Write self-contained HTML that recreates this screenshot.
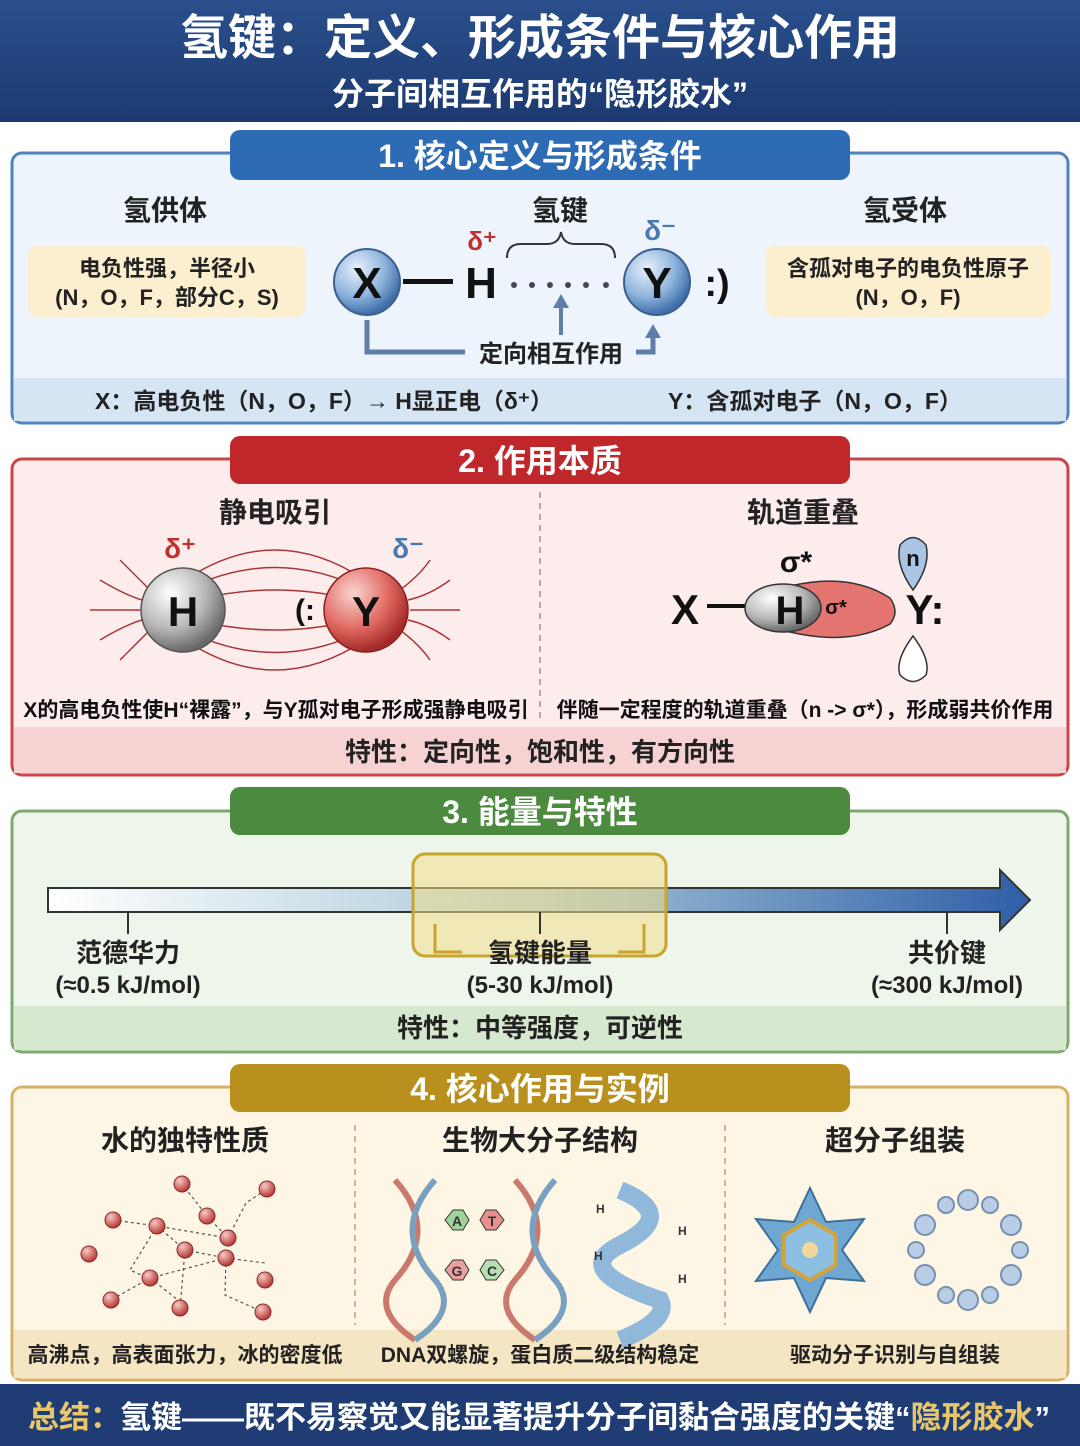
<!DOCTYPE html>
<html><head><meta charset="utf-8"><style>
html,body{margin:0;padding:0;background:#fff}
svg{display:block}
text{font-family:"Liberation Sans","Noto Sans CJK SC",sans-serif;font-weight:bold}
</style></head><body>
<svg width="1080" height="1446" viewBox="0 0 1080 1446" xmlns="http://www.w3.org/2000/svg">
<defs>
<linearGradient id="hdr" x1="0" y1="0" x2="0" y2="1"><stop offset="0" stop-color="#2a4f8c"/><stop offset="1" stop-color="#1c3a70"/></linearGradient>
<radialGradient id="blueBall" cx="0.35" cy="0.3" r="0.7"><stop offset="0" stop-color="#e8f1fb"/><stop offset="0.6" stop-color="#8fb4de"/><stop offset="1" stop-color="#3f6fa8"/></radialGradient>
<radialGradient id="greyBall" cx="0.35" cy="0.3" r="0.7"><stop offset="0" stop-color="#ffffff"/><stop offset="0.6" stop-color="#b8b8b8"/><stop offset="1" stop-color="#6a6a6a"/></radialGradient>
<radialGradient id="redBall" cx="0.35" cy="0.3" r="0.7"><stop offset="0" stop-color="#fbd4d0"/><stop offset="0.6" stop-color="#e06a62"/><stop offset="1" stop-color="#a42a28"/></radialGradient>
<radialGradient id="wball" cx="0.35" cy="0.3" r="0.7"><stop offset="0" stop-color="#f7c9c4"/><stop offset="1" stop-color="#b83a36"/></radialGradient>
<linearGradient id="bar" x1="0" y1="0" x2="1" y2="0"><stop offset="0" stop-color="#ffffff"/><stop offset="0.5" stop-color="#a8c8d8"/><stop offset="1" stop-color="#2f5ea8"/></linearGradient>
</defs>

<!-- header -->
<rect x="0" y="0" width="1080" height="122" fill="url(#hdr)"/>
<text x="540" y="54" font-size="48" fill="#fff" text-anchor="middle">氢键：定义、形成条件与核心作用</text>
<text x="540" y="105" font-size="32" fill="#fff" text-anchor="middle">分子间相互作用的“隐形胶水”</text>

<!-- Section 1 -->
<rect x="12" y="153" width="1056" height="270" rx="10" fill="#eef4fb" stroke="#4f82bf" stroke-width="3"/>
<rect x="14" y="378" width="1052" height="43" fill="#d6e5f3"/>
<rect x="230" y="130" width="620" height="50" rx="10" fill="#2d6bb5"/>
<text x="540" y="167" font-size="32" fill="#fff" text-anchor="middle">1. 核心定义与形成条件</text>
<text x="165" y="220" font-size="28" fill="#222" text-anchor="middle">氢供体</text>
<text x="560" y="220" font-size="28" fill="#222" text-anchor="middle">氢键</text>
<text x="905" y="220" font-size="28" fill="#222" text-anchor="middle">氢受体</text>
<rect x="28" y="245" width="278" height="72" rx="10" fill="#fbefd0"/>
<text x="167" y="276" font-size="22" fill="#222" text-anchor="middle">电负性强，半径小</text>
<text x="167" y="305" font-size="22" fill="#222" text-anchor="middle">(N，O，F，部分C，S)</text>
<rect x="765" y="245" width="286" height="72" rx="10" fill="#fbefd0"/>
<text x="908" y="276" font-size="22" fill="#222" text-anchor="middle">含孤对电子的电负性原子</text>
<text x="908" y="305" font-size="22" fill="#222" text-anchor="middle">(N，O，F)</text>
<circle cx="367" cy="282" r="33" fill="url(#blueBall)" stroke="#3a5f90" stroke-width="2"/>
<text x="367" y="298" font-size="44" fill="#111" text-anchor="middle">X</text>
<rect x="403" y="279" width="50" height="5" fill="#111"/>
<text x="481" y="298" font-size="44" fill="#111" text-anchor="middle">H</text>
<text x="482" y="250" font-size="26" fill="#c0302c" text-anchor="middle">δ⁺</text>
<g fill="#445">
<circle cx="514" cy="285" r="3"/><circle cx="532" cy="285" r="3"/><circle cx="550" cy="285" r="3"/><circle cx="568" cy="285" r="3"/><circle cx="586" cy="285" r="3"/><circle cx="606" cy="285" r="3"/>
</g>
<path d="M507 258 q0 -14 14 -14 h26 q12 0 14 -12 q2 12 14 12 h26 q14 0 14 14" fill="none" stroke="#333" stroke-width="2"/>
<text x="660" y="240" font-size="28" fill="#4a78b0" text-anchor="middle">δ⁻</text>
<circle cx="657" cy="282" r="33" fill="url(#blueBall)" stroke="#3a5f90" stroke-width="2"/>
<text x="657" y="298" font-size="44" fill="#111" text-anchor="middle">Y</text>
<text x="717" y="296" font-size="38" fill="#111" text-anchor="middle">:)</text>
<path d="M367 320 V352 H465" fill="none" stroke="#5f7fa8" stroke-width="5"/>
<path d="M636 352 H653 V335" fill="none" stroke="#5f7fa8" stroke-width="5"/>
<path d="M645 338 L653 324 L661 338Z" fill="#5f7fa8"/>
<path d="M561 335 V305" stroke="#5f7fa8" stroke-width="4"/>
<path d="M553 308 L561 294 L569 308Z" fill="#5f7fa8"/>
<text x="551" y="362" font-size="24" fill="#222" text-anchor="middle">定向相互作用</text>
<text x="95" y="409" font-size="23" fill="#222">X：高电负性（N，O，F）→ H显正电（δ⁺）</text>
<text x="668" y="409" font-size="23" fill="#222">Y：含孤对电子（N，O，F）</text>

<!-- Section 2 -->
<rect x="12" y="459" width="1056" height="316" rx="10" fill="#fcecec" stroke="#c84548" stroke-width="3"/>
<rect x="14" y="727" width="1052" height="46" fill="#f6d2d2"/>
<rect x="230" y="436" width="620" height="48" rx="10" fill="#c0272b"/>
<text x="540" y="472" font-size="32" fill="#fff" text-anchor="middle">2. 作用本质</text>
<line x1="540" y1="492" x2="540" y2="722" stroke="#c8a0a0" stroke-width="2" stroke-dasharray="6 5"/>
<text x="275" y="522" font-size="28" fill="#222" text-anchor="middle">静电吸引</text>
<text x="803" y="522" font-size="28" fill="#222" text-anchor="middle">轨道重叠</text>
<g fill="none" stroke="#a83838" stroke-width="1.5">
<path d="M185 580 Q275 520 365 580"/><path d="M185 590 Q275 545 365 590"/><path d="M195 600 Q275 580 355 600"/>
<path d="M195 620 Q275 640 355 620"/><path d="M185 630 Q275 675 365 630"/><path d="M185 640 Q275 700 365 640"/>
<path d="M90 610 H140"/><path d="M100 580 Q125 595 142 600"/><path d="M100 640 Q125 625 142 620"/><path d="M120 560 Q140 580 150 590"/><path d="M120 660 Q140 640 150 630"/>
<path d="M410 610 H460"/><path d="M408 600 Q430 595 450 580"/><path d="M408 620 Q430 625 450 640"/><path d="M400 590 Q420 575 430 560"/><path d="M400 630 Q420 645 430 660"/>
</g>
<circle cx="183" cy="610" r="42" fill="url(#greyBall)" stroke="#555" stroke-width="1.5"/>
<text x="183" y="626" font-size="42" fill="#111" text-anchor="middle">H</text>
<text x="180" y="558" font-size="28" fill="#c0302c" text-anchor="middle">δ⁺</text>
<circle cx="366" cy="610" r="42" fill="url(#redBall)" stroke="#8a2020" stroke-width="1.5"/>
<text x="366" y="626" font-size="42" fill="#111" text-anchor="middle">Y</text>
<text x="408" y="558" font-size="28" fill="#4a78b0" text-anchor="middle">δ⁻</text>
<text x="305" y="620" font-size="30" fill="#111" text-anchor="middle">(:</text>
<text x="685" y="624" font-size="42" fill="#111" text-anchor="middle">X</text>
<rect x="707" y="604" width="38" height="4" fill="#111"/>
<path d="M790 586 Q850 572 890 598 Q900 612 890 624 Q850 646 790 632Z" fill="#e47470" stroke="#333" stroke-width="1.5"/>
<ellipse cx="783" cy="608" rx="38" ry="24" fill="url(#greyBall)" stroke="#333" stroke-width="1.5"/>
<text x="790" y="624" font-size="40" fill="#111" text-anchor="middle">H</text>
<text x="836" y="614" font-size="20" fill="#111" text-anchor="middle">σ*</text>
<text x="796" y="572" font-size="30" fill="#111" text-anchor="middle">σ*</text>
<path d="M913 590 Q895 565 900 545 Q913 530 926 545 Q931 565 913 590Z" fill="#a9c4e4" stroke="#333" stroke-width="1.5"/>
<text x="913" y="566" font-size="22" fill="#111" text-anchor="middle">n</text>
<path d="M913 636 Q895 660 900 675 Q913 688 926 675 Q931 660 913 636Z" fill="#fff" stroke="#333" stroke-width="1.5"/>
<text x="925" y="624" font-size="42" fill="#111" text-anchor="middle">Y:</text>
<text x="276" y="717" font-size="21" fill="#111" text-anchor="middle">X的高电负性使H“裸露”，与Y孤对电子形成强静电吸引</text>
<text x="805" y="717" font-size="21" fill="#111" text-anchor="middle">伴随一定程度的轨道重叠（n -&gt; σ*），形成弱共价作用</text>
<text x="540" y="761" font-size="26" fill="#222" text-anchor="middle">特性：定向性，饱和性，有方向性</text>

<!-- Section 3 -->
<rect x="12" y="811" width="1056" height="241" rx="10" fill="#eef5ea" stroke="#7ea96e" stroke-width="3"/>
<rect x="14" y="1006" width="1052" height="44" fill="#d6e8cd"/>
<rect x="230" y="787" width="620" height="48" rx="10" fill="#4b8a3f"/>
<text x="540" y="823" font-size="32" fill="#fff" text-anchor="middle">3. 能量与特性</text>
<path d="M48 888 H1000 V870 L1030 900 L1000 930 V912 H48Z" fill="url(#bar)" stroke="#333" stroke-width="2"/>
<rect x="413" y="854" width="253" height="102" rx="12" fill="#f3dc8a" fill-opacity="0.55" stroke="#c9a530" stroke-width="3"/>
<line x1="128" y1="912" x2="128" y2="934" stroke="#333" stroke-width="2"/>
<line x1="540" y1="912" x2="540" y2="934" stroke="#333" stroke-width="2"/>
<line x1="947" y1="912" x2="947" y2="934" stroke="#333" stroke-width="2"/>
<path d="M435 924 V952 H462" fill="none" stroke="#c9a530" stroke-width="3"/>
<path d="M644 924 V952 H618" fill="none" stroke="#c9a530" stroke-width="3"/>
<text x="128" y="962" font-size="26" fill="#222" text-anchor="middle">范德华力</text>
<text x="128" y="993" font-size="24" fill="#222" text-anchor="middle">(≈0.5 kJ/mol)</text>
<text x="540" y="962" font-size="26" fill="#222" text-anchor="middle">氢键能量</text>
<text x="540" y="993" font-size="24" fill="#222" text-anchor="middle">(5-30 kJ/mol)</text>
<text x="947" y="962" font-size="26" fill="#222" text-anchor="middle">共价键</text>
<text x="947" y="993" font-size="24" fill="#222" text-anchor="middle">(≈300 kJ/mol)</text>
<text x="540" y="1037" font-size="26" fill="#222" text-anchor="middle">特性：中等强度，可逆性</text>

<!-- Section 4 -->
<rect x="12" y="1087" width="1056" height="293" rx="10" fill="#fdf6e5" stroke="#d7b266" stroke-width="3"/>
<rect x="14" y="1330" width="1052" height="48" fill="#f5e6c3"/>
<rect x="230" y="1064" width="620" height="48" rx="10" fill="#b98f1e"/>
<text x="540" y="1100" font-size="32" fill="#fff" text-anchor="middle">4. 核心作用与实例</text>
<line x1="355" y1="1125" x2="355" y2="1325" stroke="#c8b890" stroke-width="2" stroke-dasharray="6 5"/>
<line x1="725" y1="1125" x2="725" y2="1325" stroke="#c8b890" stroke-width="2" stroke-dasharray="6 5"/>
<text x="185" y="1150" font-size="28" fill="#222" text-anchor="middle">水的独特性质</text>
<text x="540" y="1150" font-size="28" fill="#222" text-anchor="middle">生物大分子结构</text>
<text x="895" y="1150" font-size="28" fill="#222" text-anchor="middle">超分子组装</text>
<!-- water -->
<g stroke="#555" stroke-width="1.2" stroke-dasharray="3 3" fill="none">
<path d="M113 1220 L157 1226 L228 1238 L207 1216 L182 1184"/><path d="M228 1238 L246 1203 L267 1189"/><path d="M157 1226 L130 1270 L152 1280"/>
<path d="M157 1226 L185 1250 L226 1258 L150 1278 L111 1300"/><path d="M226 1258 L265 1263"/><path d="M185 1250 L180 1308"/><path d="M150 1278 L178 1300"/><path d="M226 1258 L225 1295 L263 1312"/>
</g>
<g fill="url(#wball)" stroke="#8a2a2a">
<circle cx="113" cy="1220" r="8"/><circle cx="157" cy="1226" r="8"/><circle cx="182" cy="1184" r="8"/><circle cx="228" cy="1238" r="8"/><circle cx="267" cy="1189" r="8"/><circle cx="207" cy="1216" r="8"/>
<circle cx="185" cy="1250" r="8"/><circle cx="226" cy="1258" r="8"/><circle cx="89" cy="1254" r="8"/><circle cx="150" cy="1278" r="8"/><circle cx="111" cy="1300" r="8"/><circle cx="180" cy="1308" r="8"/><circle cx="265" cy="1280" r="8"/><circle cx="263" cy="1312" r="8"/>
</g>
<!-- DNA -->
<g fill="none" stroke-width="6">
<path d="M395 1180 Q440 1230 395 1280 Q370 1310 415 1340" stroke="#c97a6c"/>
<path d="M435 1180 Q390 1230 435 1280 Q460 1310 415 1340" stroke="#7aa0c0"/>
<path d="M515 1180 Q560 1230 515 1280 Q490 1310 535 1340" stroke="#c97a6c"/>
<path d="M555 1180 Q510 1230 555 1280 Q580 1310 535 1340" stroke="#7aa0c0"/>
</g>
<polygon points="445,1220 453,1210 463,1210 469,1220 463,1230 453,1230" fill="#9fd39a" stroke="#333"/>
<text x="457" y="1226" font-size="14" fill="#333" text-anchor="middle">A</text>
<polygon points="480,1220 486,1210 496,1210 504,1220 496,1230 486,1230" fill="#e89090" stroke="#333"/>
<text x="492" y="1226" font-size="14" fill="#333" text-anchor="middle">T</text>
<polygon points="445,1270 453,1260 463,1260 469,1270 463,1280 453,1280" fill="#e8a0a0" stroke="#333"/>
<text x="457" y="1276" font-size="14" fill="#333" text-anchor="middle">G</text>
<polygon points="480,1270 486,1260 496,1260 504,1270 496,1280 486,1280" fill="#b8dfb0" stroke="#333"/>
<text x="492" y="1276" font-size="14" fill="#333" text-anchor="middle">C</text>
<path d="M620 1190 Q680 1215 620 1245 Q570 1270 660 1300 Q670 1320 620 1340" fill="none" stroke="#8fb8da" stroke-width="18"/>
<text x="596" y="1213" font-size="12" fill="#333">H</text><text x="678" y="1235" font-size="12" fill="#333">H</text><text x="594" y="1260" font-size="12" fill="#333">H</text><text x="678" y="1283" font-size="12" fill="#333">H</text>
<!-- supramolecular -->
<g transform="translate(810,1250)">
<polygon points="0,-62 16,-28 54,-31 32,0 54,31 16,28 0,62 -16,28 -54,31 -32,0 -54,-31 -16,-28" fill="#6ea7d2" stroke="#3d6f9a" stroke-width="2"/>
<polygon points="0,-30 26,-15 26,15 0,30 -26,15 -26,-15" fill="#8cc0e2" stroke="#d4a43c" stroke-width="4"/>
<circle r="8" fill="#f2d79a"/>
</g>
<g transform="translate(968,1250)" fill="#b8cde6" stroke="#7890b0" stroke-width="2">
<circle cx="0" cy="-50" r="10"/><circle cx="43" cy="-25" r="10"/><circle cx="43" cy="25" r="10"/><circle cx="0" cy="50" r="10"/><circle cx="-43" cy="25" r="10"/><circle cx="-43" cy="-25" r="10"/>
<circle cx="22" cy="-45" r="8"/><circle cx="52" cy="0" r="8"/><circle cx="22" cy="45" r="8"/><circle cx="-22" cy="45" r="8"/><circle cx="-52" cy="0" r="8"/><circle cx="-22" cy="-45" r="8"/>
</g>
<text x="185" y="1362" font-size="21" fill="#222" text-anchor="middle">高沸点，高表面张力，冰的密度低</text>
<text x="540" y="1362" font-size="21" fill="#222" text-anchor="middle">DNA双螺旋，蛋白质二级结构稳定</text>
<text x="895" y="1362" font-size="21" fill="#222" text-anchor="middle">驱动分子识别与自组装</text>

<!-- footer -->
<rect x="0" y="1384" width="1080" height="62" fill="#1f3d74"/>
<text x="28" y="1428" font-size="31" fill="#e8c66a">总结：</text>
<text x="120" y="1428" font-size="31" fill="#fff">氢键——既不易察觉又能显著提升分子间黏合强度的关键“<tspan fill="#e8c66a">隐形胶水</tspan>”</text>
</svg>
</body></html>
